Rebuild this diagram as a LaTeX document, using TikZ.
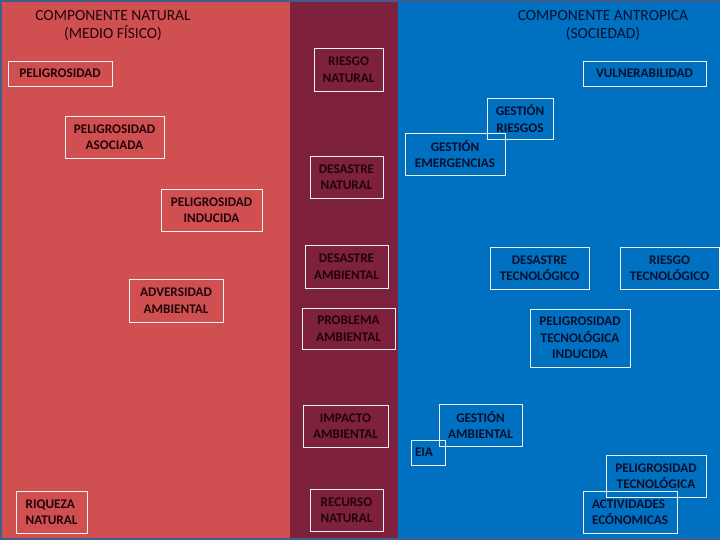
\documentclass[tikz,border=0pt]{standalone}
\usepackage{fontspec}
\setmainfont{Carlito}
\definecolor{fondo}{RGB}{66,92,140}
\definecolor{rojo}{RGB}{208,80,82}
\definecolor{granate}{RGB}{126,33,60}
\definecolor{azul}{RGB}{0,112,192}
\definecolor{tinta}{RGB}{34,4,8}
\definecolor{tintaazul}{RGB}{4,16,46}

\begin{document}
\begin{tikzpicture}[x=1pt,y=-1pt,
    caja/.style = {draw=white!90!gray, line width=0.9pt, inner sep=0pt,
        align=center, text=tinta,
        font=\bfseries\fontsize{13.2}{16.5}\selectfont},
    cajaazul/.style = {caja, text=tintaazul},
    titulo/.style = {align=center, text=tinta,
        font=\fontsize{15.5}{18}\selectfont}]

\useasboundingbox (0,0) rectangle (720,540);

% Panels
\fill[fondo] (0,0) rectangle (720,540);
\fill[rojo] (2,2) rectangle (290,538);
\fill[granate] (290,2) rectangle (398,538);
\fill[azul] (398,2) rectangle (720,538);

% Titles
\node[titulo] (natural) at (113,26) {COMPONENTE NATURAL\\(MEDIO FÍSICO)};
\node[titulo, text=tintaazul] (antropica) at (603,26) {COMPONENTE ANTROPICA\\(SOCIEDAD)};

% Medio fisico
\node[caja, minimum width=104, minimum height=25] (pel) at (60,73.5) {PELIGROSIDAD};
\node[caja, minimum width=99, minimum height=42] (pelasoc) at (114.5,137) {PELIGROSIDAD\\ASOCIADA};
\node[caja, minimum width=101, minimum height=42] (pelind) at (211.5,210) {PELIGROSIDAD\\INDUCIDA};
\node[caja, minimum width=94, minimum height=43] (adv) at (176,300.5) {ADVERSIDAD\\AMBIENTAL};
\node[caja, align=left, minimum width=71, minimum height=42] (riq) at (51.5,512) {RIQUEZA\\NATURAL};

% Middle band
\node[caja, minimum width=69, minimum height=43] (riesgonat) at (348.5,69.5) {RIESGO\\NATURAL};
\node[caja, minimum width=73, minimum height=42] (desnat) at (346.5,177) {DESASTRE\\NATURAL};
\node[caja, minimum width=83, minimum height=43] (desamb) at (346.5,266.5) {DESASTRE\\AMBIENTAL};
\node[caja, minimum width=93, minimum height=41] (prob) at (348.5,328.5) {PROBLEMA\\AMBIENTAL};
\node[caja, minimum width=85, minimum height=42] (imp) at (345.5,426) {IMPACTO\\AMBIENTAL};
\node[caja, minimum width=73, minimum height=42] (rec) at (346.5,510) {RECURSO\\NATURAL};

% Sociedad
\node[cajaazul, minimum width=123, minimum height=25] (vul) at (644.5,73.5) {VULNERABILIDAD};
\node[cajaazul, minimum width=66, minimum height=41] (gesries) at (520,118.5) {GESTIÓN\\RIESGOS};
\node[cajaazul, minimum width=100, minimum height=42] (gesemer) at (455,154) {GESTIÓN\\EMERGENCIAS};
\node[cajaazul, minimum width=99, minimum height=42] (destec) at (539.5,268) {DESASTRE\\TECNOLÓGICO};
\node[cajaazul, minimum width=99, minimum height=42] (riestec) at (669.5,268) {RIESGO\\TECNOLÓGICO};
\node[cajaazul, minimum width=100, minimum height=58] (peltecind) at (580,338) {PELIGROSIDAD\\TECNOLÓGICA\\INDUCIDA};
\node[cajaazul, minimum width=83, minimum height=42] (gesamb) at (480.5,425) {GESTIÓN\\AMBIENTAL};
\node[cajaazul, align=left, text width=26, minimum width=34, minimum height=25] (eia) at (428,452.5) {EIA};
\node[cajaazul, minimum width=100, minimum height=42] (peltec) at (656,476) {PELIGROSIDAD\\TECNOLÓGICA};
\node[cajaazul, align=left, minimum width=94, minimum height=42] (act) at (630,512) {ACTIVIDADES\\ECÓNOMICAS};
\end{tikzpicture}
\end{document}
